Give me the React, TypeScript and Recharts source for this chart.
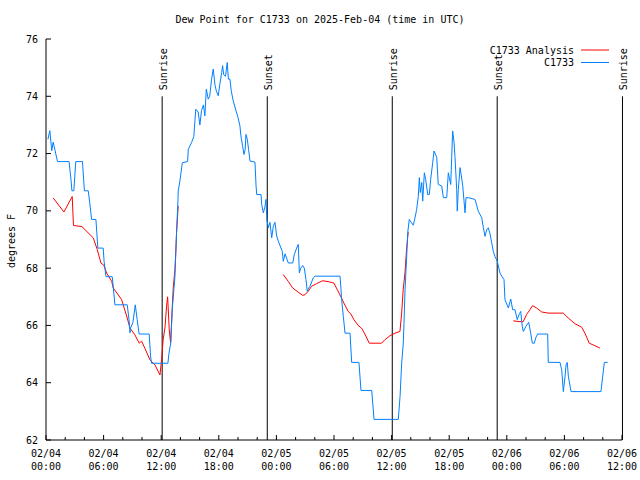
import React from "react";
import { LineChart, Line, XAxis, YAxis, ReferenceLine, Legend } from "recharts";

// hours since 2025-02-04 00:00 UTC
const blueHours = [
  0.2, 0.4, 0.6, 0.75, 0.95, 1.2, 2.4, 2.6, 2.7, 2.9, 3.1, 3.8, 4.0, 4.4, 4.55, 4.75, 5.2, 5.3, 5.4, 5.96,
  6.05, 6.25, 6.9, 7.18, 8.46, 8.65, 8.75, 8.8, 9.05, 9.3, 9.5, 9.7, 10.75, 10.9, 11.0, 12.7, 12.8, 13.0, 13.15, 13.43,
  13.6, 13.75, 13.77, 13.95, 14.2, 14.75, 14.82, 15.16, 15.4, 15.6, 15.85, 16.03, 16.2, 16.4, 16.55, 16.7, 16.9, 17.05, 17.25, 17.42,
  17.6, 17.75, 17.94, 18.1, 18.3, 18.4, 18.5, 18.7, 18.88, 19.0, 19.16, 19.3, 19.5, 19.8, 20.0, 20.2, 20.3, 20.48, 20.62, 20.75,
  20.83, 20.97, 21.1, 21.25, 21.77, 21.88, 21.95, 22.4, 22.47, 22.64, 22.81, 22.92, 23.0, 23.16, 23.33, 23.51, 23.68, 23.85, 24.03, 24.2,
  24.61, 24.72, 24.9, 25.24, 25.7, 25.86, 26.11, 26.28, 26.39, 26.53, 26.74, 26.91, 27.08, 27.22, 27.36, 27.5, 27.84, 28.02, 30.63, 30.8,
  30.97, 31.15, 31.67, 31.84, 32.6, 32.81, 33.93, 34.17, 36.7, 36.88, 37.05, 37.22, 37.29, 37.4, 37.57, 37.68, 37.84, 38.09, 38.26, 38.44,
  38.61, 38.78, 38.89, 38.99, 39.14, 39.24, 39.41, 39.55, 39.76, 39.93, 40.07, 40.28, 40.42, 40.7, 40.86, 41.22, 41.39, 41.74, 41.91, 42.01,
  42.16, 42.26, 42.36, 42.5, 42.6, 42.78, 42.84, 42.95, 43.13, 43.23, 43.41, 43.65, 43.75, 43.99, 44.69, 44.86, 45.03, 45.39, 45.55, 45.73,
  45.91, 46.07, 46.25, 46.43, 46.59, 46.77, 47.01, 47.29, 47.47, 47.71, 47.81, 48.16, 48.41, 48.61, 48.85, 49.09, 49.27, 49.45, 49.61, 49.72,
  50.0, 50.28, 50.49, 50.66, 50.86, 51.04, 51.22, 52.26, 52.32, 53.54, 53.72, 53.89, 54.06, 54.17, 54.3, 54.41, 54.69, 57.81, 57.99, 58.16,
  58.51,
];
const blueValues = [
  72.5, 72.8, 72.1, 72.4, 72.1, 71.72, 71.72, 71.1, 70.7, 70.7, 71.72, 71.72, 70.7, 70.7, 70.3, 69.7, 69.7, 69.2, 68.7, 68.7,
  68.24, 67.7, 67.7, 66.72, 66.72, 66.2, 65.74, 65.9, 66.1, 66.72, 66.2, 65.7, 65.7, 64.9, 64.68, 64.68, 65.0, 65.4, 66.55, 67.7,
  69.24, 70.4, 70.69, 71.04, 71.68, 71.72, 72.15, 72.38, 72.6, 73.55, 73.45, 73.0, 73.5, 73.7, 73.32, 74.25, 73.9, 74.0, 74.6, 74.95,
  74.4, 74.18, 74.02, 74.4, 74.83, 75.07, 74.76, 74.7, 75.18, 74.6, 74.6, 74.19, 73.84, 73.49, 73.26, 72.97, 72.62, 72.27, 71.97, 72.15,
  72.67, 72.5, 72.15, 71.74, 71.7, 70.87, 70.57, 70.57, 70.22, 69.93, 70.15, 70.4, 69.7, 69.41, 69.6, 69.06, 69.46, 69.6, 69.12, 68.94,
  68.59, 68.24, 68.5, 68.18, 68.18, 68.47, 68.7, 68.83, 67.83, 68.0, 68.09, 68.0, 67.6, 67.19, 67.3, 67.37, 67.66, 67.72, 67.72, 66.9,
  66.32, 65.73, 65.73, 64.71, 64.71, 63.73, 63.73, 62.72, 62.72, 63.52, 64.69, 65.38, 66.07, 67.25, 68.4, 69.24, 69.7, 69.58, 69.5, 69.76,
  70.05, 70.5, 71.16, 70.64, 70.99, 70.34, 71.33, 71.1, 70.57, 70.57, 71.1, 71.68, 72.09, 71.87, 70.92, 70.87, 70.46, 70.46, 71.33, 71.16,
  70.92, 71.86, 72.79, 72.4, 71.9, 70.75, 69.99, 70.75, 71.51, 71.3, 70.87, 69.93, 70.46, 70.46, 70.4, 70.2, 69.99, 69.76, 69.43, 69.11,
  69.34, 69.41, 69.2, 68.88, 68.59, 68.4, 68.24, 67.83, 67.72, 67.6, 66.9, 66.61, 66.92, 66.55, 66.55, 66.2, 66.37, 66.49, 65.97, 65.79,
  65.97, 66.11, 65.73, 65.38, 65.38, 65.59, 65.7, 65.7, 64.71, 64.71, 64.45, 63.69, 64.2, 64.62, 64.71, 64.23, 63.69, 63.69, 64.23, 64.71,
  64.71,
];

const redHours = [
  0.75, 1.87, 2.73, 2.86, 3.74, 4.92, 5.34, 5.72, 6.03, 6.31, 6.84, 7.0, 7.88, 8.46, 8.74, 9.26, 9.71, 9.96, 10.3, 10.83,
  11.35, 11.87, 12.04, 12.2, 12.39, 12.56, 12.67, 12.84, 12.98, 13.15, 13.25, 13.43, 13.53, 13.6, 13.77, 19.0,
  24.71, 25.23, 25.69, 26.27, 26.73, 26.97, 27.31, 27.67, 28.19, 28.81, 29.4, 29.99, 30.34, 30.69, 31.03, 31.48, 31.76, 32.08, 32.52, 32.88,
  33.22, 33.67, 34.96, 35.3, 35.83, 36.35, 36.87, 37.04, 37.21, 37.39, 37.56, 37.73, 43.0,
  48.67, 49.37, 49.71, 50.06, 50.41, 50.69, 51.1, 51.63, 52.32, 53.88, 54.4, 55.1, 55.79, 56.14, 56.59, 57.18, 57.7,
];
const redValues = [
  70.45, 69.96, 70.5, 69.49, 69.45, 69.06, 68.65, 68.18, 68.1, 67.83, 67.54, 67.31, 66.9, 66.26, 65.91, 65.67, 65.38, 65.45, 65.2, 64.8,
  64.62, 64.27, 64.8, 65.5, 65.92, 66.67, 67.0, 65.85, 65.4, 66.6, 67.3, 67.95, 68.65, 69.24, 70.17, null,
  67.78, 67.54, 67.31, 67.16, 67.05, 67.07, 67.19, 67.37, 67.46, 67.56, 67.53, 67.48, 67.25, 67.02, 66.78, 66.49, 66.4, 66.2, 66.0, 65.9,
  65.7, 65.38, 65.38, 65.5, 65.64, 65.73, 65.79, 66.4, 67.25, 67.83, 68.65, 69.26, null,
  66.16, 66.13, 66.13, 66.38, 66.55, 66.69, 66.61, 66.47, 66.43, 66.43, 66.26, 66.06, 65.94, 65.73, 65.38, 65.29, 65.21,
];

const sunHours = [12.1, 23.05, 36.07, 47.0, 60.05];
const sunNames = ["Sunrise", "Sunset", "Sunrise", "Sunset", "Sunrise"];

const seriesNames = ["C1733 Analysis", "C1733"];
const seriesColors = ["#ff0000", "#0080ff"];

const xTicks = Array.from({ length: 31 }, (_, i) => i * 2);
const xMajorHours = [0, 6, 12, 18, 24, 30, 36, 42, 48, 54, 60];
const xTickDates = ["02/04", "02/04", "02/04", "02/04", "02/05", "02/05", "02/05", "02/05", "02/06", "02/06", "02/06"];
const xTickTimes = ["00:00", "06:00", "12:00", "18:00", "00:00", "06:00", "12:00", "18:00", "00:00", "06:00", "12:00"];
const yTicks = [62, 64, 66, 68, 70, 72, 74, 76];

const blueData = blueHours.map((h, i) => ({ h, v: blueValues[i] }));
const redData = redHours.map((h, i) => ({ h, v: redValues[i] }));

const FONT = "'DejaVu Sans Mono', monospace";

const BottomTick = (p: any) => {
  const h = p.payload.value;
  const idx = xMajorHours.indexOf(h);
  const major = idx >= 0;
  return (
    <g>
      <line x1={p.x} y1={p.y} x2={p.x} y2={p.y - (major ? 5 : 3)} stroke="#000" />
      {major && (
        <text x={p.x} y={p.y} textAnchor="middle" fontFamily={FONT} fontSize={10} fill="#000">
          <tspan x={p.x} dy={17}>{xTickDates[idx]}</tspan>
          <tspan x={p.x} dy={13}>{xTickTimes[idx]}</tspan>
        </text>
      )}
    </g>
  );
};

const TopTick = (p: any) => {
  const major = xMajorHours.includes(p.payload.value);
  return <line x1={p.x} y1={p.y} x2={p.x} y2={p.y + (major ? 5 : 3)} stroke="#000" />;
};

const LeftTick = (p: any) => (
  <g>
    <line x1={p.x} y1={p.y} x2={p.x + 5} y2={p.y} stroke="#000" />
    <text x={p.x - 8} y={p.y + 3.5} textAnchor="end" fontFamily={FONT} fontSize={10} fill="#000">
      {p.payload.value}
    </text>
  </g>
);

const RightTick = (p: any) => <line x1={p.x} y1={p.y} x2={p.x - 5} y2={p.y} stroke="#000" />;

const sunLabel = (text: string) => (props: any) => {
  const vb = props.viewBox || {};
  const x = vb.x + 1;
  const y = vb.y - 6;
  return (
    <text x={x} y={y} transform={`rotate(-90 ${x} ${y})`} dominantBaseline="central" fontFamily={FONT} fontSize={10} fill="#000">
      {text}
    </text>
  );
};

const renderLegend = () => (
  <svg width={640} height={30}>
    {seriesNames.map((n, i) => (
      <g key={n}>
        <text x={574} y={10 + i * 12.5 + 3.5} textAnchor="end" fontFamily={FONT} fontSize={10} fill="#000">{n}</text>
        <line x1={581} x2={609} y1={10 + i * 12.5} y2={10 + i * 12.5} stroke={seriesColors[i]} />
      </g>
    ))}
  </svg>
);

export default function App() {
  return (
    <div style={{ position: "absolute", left: 0, top: 0, width: 640, height: 480, background: "#fff" }}>
      <div style={{ position: "absolute", top: 14, left: 0, width: 640, textAlign: "center", fontFamily: FONT, fontSize: 10, lineHeight: "12px", color: "#000" }}>
        Dew Point for C1733 on 2025-Feb-04 (time in UTC)
      </div>
      <LineChart width={640} height={480} margin={{ top: 39, right: 18, bottom: 0, left: 6 }}>
        <XAxis
          xAxisId={0}
          type="number"
          dataKey="h"
          domain={[0, 60]}
          ticks={xTicks}
          interval={0}
          height={40}
          tickSize={0}
          tickMargin={0}
          tickLine={false}
          axisLine={{ stroke: "#000" }}
          tick={<BottomTick />}
          allowDataOverflow
        />
        <XAxis
          xAxisId="top"
          orientation="top"
          type="number"
          dataKey="h"
          domain={[0, 60]}
          ticks={xTicks}
          interval={0}
          height={0}
          tickSize={0}
          tickMargin={0}
          tickLine={false}
          axisLine={{ stroke: "#000" }}
          tick={<TopTick />}
        />
        <YAxis
          yAxisId={0}
          type="number"
          domain={[62, 76]}
          ticks={yTicks}
          interval={0}
          width={40}
          tickSize={0}
          tickMargin={0}
          tickLine={false}
          axisLine={{ stroke: "#000" }}
          tick={<LeftTick />}
          label={(props: any) => (
            <text x={11} y={241} transform="rotate(-90 11 241)" textAnchor="middle" dominantBaseline="central" fontFamily={FONT} fontSize={10} fill="#000">
              degrees F
            </text>
          )}
        />
        <YAxis
          yAxisId="right"
          orientation="right"
          type="number"
          domain={[62, 76]}
          ticks={yTicks}
          interval={0}
          width={0}
          tickSize={0}
          tickMargin={0}
          tickLine={false}
          axisLine={{ stroke: "#000" }}
          tick={<RightTick />}
        />
        {sunHours.map((h, i) => (
          <ReferenceLine
            key={i}
            segment={[{ x: h, y: 62 }, { x: h, y: 74 }]}
            stroke="#000"
            strokeWidth={1}
            ifOverflow="visible"
            label={sunLabel(sunNames[i])}
          />
        ))}
        <Legend layout="vertical" align="center" verticalAlign="middle" wrapperStyle={{ top: 40, left: 0, width: 640 }} content={renderLegend} />
        <Line data={redData} dataKey="v" name={seriesNames[0]} stroke={seriesColors[0]} strokeWidth={1} dot={false} isAnimationActive={false} connectNulls={false} />
        <Line data={blueData} dataKey="v" name={seriesNames[1]} stroke={seriesColors[1]} strokeWidth={1} dot={false} isAnimationActive={false} />
      </LineChart>
    </div>
  );
}
